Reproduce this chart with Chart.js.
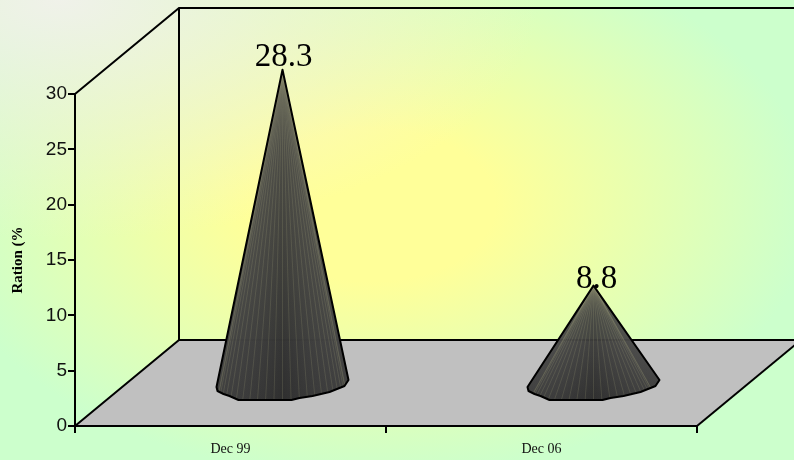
<!DOCTYPE html>
<html>
<head>
<meta charset="utf-8">
<style>html,body{margin:0;padding:0;background:#ccffcc}canvas{display:block}</style>
<script src="https://cdn.jsdelivr.net/npm/chart.js@4/dist/chart.umd.min.js"></script>
</head>
<body>
<canvas id="c" width="794" height="460"></canvas>
<script>
const categories = ["Dec 99", "Dec 06"];
const ratioValues = [28.3, 8.8];
const yTicks = [0, 5, 10, 15, 20, 25, 30];
const axisTitle = "Ration (%";

const DEPTH = {x: 104, y: -86};
const BASE = [[-66,4],[-65,8],[-59,11],[-53,13],[-44,17],[9,17],[17,15],[30,13],[47,9],[62,3],[66,-3]];
const LABEL_DY = [-4, 2];

function line(ctx, pts){
  ctx.beginPath();
  pts.forEach((p,i)=> i ? ctx.lineTo(p[0],p[1]) : ctx.moveTo(p[0],p[1]));
  ctx.stroke();
}
function outline(ctx, cx, tipY, pts){
  ctx.beginPath();
  ctx.moveTo(cx,tipY);
  pts.forEach(p=>ctx.lineTo(p[0],p[1]));
  ctx.closePath();
}

const scene = {
  id: "scene",
  beforeDraw(chart){
    const {ctx, chartArea:a, width:W, height:H} = chart;
    ctx.save();
    ctx.fillStyle = "#ccffcc";
    ctx.fillRect(0,0,W,H);
    ctx.save();
    ctx.translate(372,205);
    ctx.scale(1,0.62);
    let g = ctx.createRadialGradient(0,0,0,0,0,440);
    g.addColorStop(0,"#ffff99");
    g.addColorStop(0.28,"#ffff99");
    g.addColorStop(1,"#ccffcc");
    ctx.fillStyle = g;
    ctx.fillRect(-800,-800,1600,1600);
    ctx.restore();
    ctx.save();
    ctx.translate(60,0);
    ctx.scale(1,0.5);
    g = ctx.createRadialGradient(0,0,0,0,0,480);
    g.addColorStop(0,"rgba(243,240,236,0.92)");
    g.addColorStop(0.5,"rgba(243,240,225,0.5)");
    g.addColorStop(1,"rgba(243,240,225,0)");
    ctx.fillStyle = g;
    ctx.fillRect(-100,-100,900,1100);
    ctx.restore();

    const L=a.left,R=a.right,T=a.top,B=a.bottom,dx=DEPTH.x,dy=DEPTH.y;
    ctx.fillStyle="#c0c0c0";
    ctx.beginPath();
    ctx.moveTo(L,B);ctx.lineTo(R,B);ctx.lineTo(R+dx,B+dy);ctx.lineTo(L+dx,B+dy);ctx.closePath();ctx.fill();
    ctx.strokeStyle="#000";
    ctx.lineWidth=2;
    line(ctx,[[L,B],[L+dx,B+dy],[W+10,B+dy]]);
    line(ctx,[[R,B],[R+dx,B+dy]]);
    line(ctx,[[L,T],[L+dx,T+dy],[W+5,T+dy]]);
    line(ctx,[[L+dx,T+dy],[L+dx,B+dy]]);
    ctx.restore();
  },
  afterDatasetsDraw(chart){
    const {ctx, scales} = chart;
    const meta = chart.getDatasetMeta(0);
    const y0 = scales.y.getPixelForValue(0) + DEPTH.y/2;
    meta.data.forEach((el,i)=>{
      const v = ratioValues[i];
      const cx = el.x + DEPTH.x/2;
      const tipY = scales.y.getPixelForValue(v) + DEPTH.y/2;
      const pts = BASE.map(p=>[cx+p[0], y0+p[1]]);
      ctx.save();
      outline(ctx,cx,tipY,pts);
      ctx.save();
      ctx.clip();
      const g = ctx.createLinearGradient(0,tipY,0,y0+17);
      g.addColorStop(0,"rgba(92,92,84,0.94)");
      g.addColorStop(0.3,"rgba(72,72,70,0.95)");
      g.addColorStop(1,"rgba(52,52,52,1)");
      ctx.fillStyle=g;
      ctx.fillRect(cx-80,tipY,160,y0+20-tipY);
      const h = ctx.createLinearGradient(cx-66,0,cx+66,0);
      h.addColorStop(0,"rgba(255,255,255,0.05)");
      h.addColorStop(0.5,"rgba(0,0,0,0.1)");
      h.addColorStop(1,"rgba(255,255,255,0.05)");
      ctx.fillStyle=h;
      ctx.fillRect(cx-80,tipY,160,y0+20-tipY);
      ctx.strokeStyle="rgba(190,190,140,0.24)";
      ctx.lineWidth=0.7;
      for(let k=-12;k<=12;k++){
        const t=k/12;
        const bx=cx+66*Math.sin(t*Math.PI/2);
        line(ctx,[[cx,tipY],[bx,y0+20]]);
      }
      ctx.restore();
      outline(ctx,cx,tipY,pts);
      ctx.strokeStyle="#000";
      ctx.lineWidth=2;
      ctx.lineJoin="round";
      ctx.stroke();
      ctx.fillStyle="#000";
      ctx.font='33px "Liberation Serif"';
      ctx.textAlign="center";
      ctx.textBaseline="alphabetic";
      ctx.fillText(String(v), cx+1+(i?2:0), tipY+LABEL_DY[i]);
      ctx.restore();
    });
  }
};

new Chart(document.getElementById("c"),{
  type:"bar",
  data:{labels:categories,datasets:[{data:ratioValues,backgroundColor:"rgba(0,0,0,0)",borderWidth:0}]},
  plugins:[scene],
  options:{
    responsive:false,
    devicePixelRatio:1,
    animation:false,
    layout:{padding:{left:9,top:94,right:97,bottom:0}},
    plugins:{legend:{display:false},tooltip:{enabled:false}},
    scales:{
      x:{
        grid:{drawOnChartArea:false,color:"#000",lineWidth:2,tickLength:7,tickColor:"#000"},
        border:{color:"#000",width:2},
        ticks:{color:"#111",font:{family:"Liberation Serif",size:14},padding:8,maxRotation:0},
        afterFit(s){s.height=34;s.paddingLeft=0;s.paddingRight=0;}
      },
      y:{
        min:0,max:30,
        afterBuildTicks(s){s.ticks=yTicks.map(v=>({value:v}));},
        grid:{drawOnChartArea:false,color:"#000",lineWidth:2,tickLength:7,tickColor:"#000"},
        border:{color:"#000",width:2},
        ticks:{color:"#111",font:{family:"Liberation Sans",size:19},padding:1},
        title:{display:true,text:axisTitle,color:"#000",font:{family:"Liberation Serif",size:15,weight:"bold"},padding:{top:0,bottom:0},align:"center"},
        afterFit(s){s.width=66;s.paddingTop=0;s.paddingBottom=0;}
      }
    }
  }
});
</script>
</body>
</html>
